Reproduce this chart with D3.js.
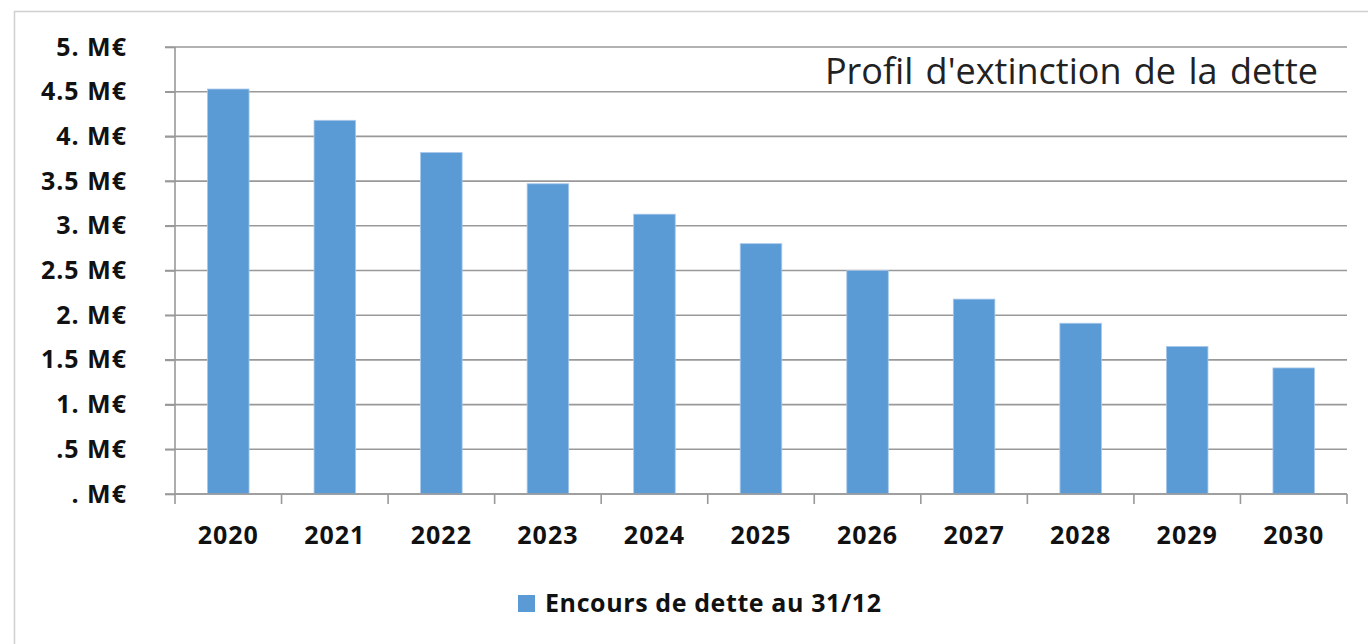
<!DOCTYPE html>
<html>
<head>
<meta charset="utf-8">
<script src="https://cdn.jsdelivr.net/npm/d3@7"></script>
<style>
  body { margin: 0; background: #fff; }
  text { font-family: "Open Sans", sans-serif; }
</style>
</head>
<body>
<script>
// data
let years = ["2020", "2021", "2022", "2023", "2024", "2025", "2026", "2027", "2028", "2029", "2030"];
let encours = [4.53, 4.18, 3.82, 3.47, 3.13, 2.80, 2.50, 2.18, 1.91, 1.65, 1.41];
let yTicks = [0, 0.5, 1, 1.5, 2, 2.5, 3, 3.5, 4, 4.5, 5];
let yTickLabels = [". M€", ".5 M€", "1. M€", "1.5 M€", "2. M€", "2.5 M€", "3. M€", "3.5 M€", "4. M€", "4.5 M€", "5. M€"];
let title = "Profil d'extinction de la dette";
let seriesName = "Encours de dette au 31/12";

let width = 1368;
let height = 644;
let plotLeft = 175, plotRight = 1347, plotTop = 47, plotBottom = 494;
let barColor = "#5b9bd5";

let svg = d3.select("body").append("svg")
  .attr("width", width)
  .attr("height", height);

// outer frame of the chart
svg.append("rect")
  .attr("x", 14.5).attr("y", 11.5)
  .attr("width", width).attr("height", height)
  .attr("fill", "none")
  .attr("stroke", "#d0d0d0")
  .attr("stroke-width", 1.5);

let x = d3.scaleBand().domain(years).range([plotLeft, plotRight]).paddingInner(0.61).paddingOuter(0.305);
let y = d3.scaleLinear().domain([0, 5]).range([plotBottom, plotTop]);
let step = x.step();

// gridlines
svg.append("g")
  .selectAll("line")
  .data(yTicks)
  .enter().append("line")
    .attr("x1", plotLeft - 10).attr("x2", plotRight)
    .attr("y1", d => y(d)).attr("y2", d => y(d))
    .attr("stroke", "#999")
    .attr("stroke-width", 1.6);

// title sits between the two top gridlines
svg.append("text")
  .attr("x", 1318).attr("y", 84)
  .attr("text-anchor", "end")
  .attr("font-size", 36)
  .attr("word-spacing", 3)
  .attr("fill", "#222")
  .text(title);

// bars
svg.append("g")
  .selectAll("rect")
  .data(encours)
  .enter().append("rect")
    .attr("x", (d, i) => x(years[i]))
    .attr("y", d => y(d))
    .attr("width", x.bandwidth())
    .attr("height", d => y(0) - y(d))
    .attr("fill", barColor)
    .attr("stroke", "#a9c8ea")
    .attr("stroke-width", 0.8);

// y axis
let yAxis = d3.axisLeft(y)
  .tickValues(yTicks)
  .tickFormat((d, i) => yTickLabels[i])
  .tickSize(10)
  .tickPadding(38);

let gy = svg.append("g")
  .attr("transform", "translate(" + plotLeft + ",0)")
  .call(yAxis);
gy.select(".domain").attr("stroke", "#999").attr("stroke-width", 1.6).attr("d", "M0," + plotTop + "V" + plotBottom);
gy.selectAll(".tick line").attr("stroke", "#999").attr("stroke-width", 1.6);
gy.selectAll(".tick text")
  .attr("font-family", "Open Sans, sans-serif")
  .attr("font-size", 25)
  .attr("font-weight", "bold")
  .attr("letter-spacing", 1)
  .attr("fill", "#111");

// x axis
let xAxis = d3.axisBottom(x).tickSize(0).tickPadding(32);
let gx = svg.append("g")
  .attr("transform", "translate(0," + plotBottom + ")")
  .call(xAxis);
gx.select(".domain").attr("stroke", "#999").attr("stroke-width", 1.6).attr("d", "M" + plotLeft + ",0H" + plotRight);
gx.selectAll(".tick text")
  .attr("font-family", "Open Sans, sans-serif")
  .attr("font-size", 25)
  .attr("font-weight", "bold")
  .attr("letter-spacing", 1)
  .attr("fill", "#111");

// category boundary ticks
gx.append("g")
  .selectAll("line")
  .data(d3.range(years.length + 1))
  .enter().append("line")
    .attr("x1", i => plotLeft + i * step).attr("x2", i => plotLeft + i * step)
    .attr("y1", 0).attr("y2", 10)
    .attr("stroke", "#999")
    .attr("stroke-width", 1.6);

// legend
let legend = svg.append("g").attr("transform", "translate(518,595)");
legend.append("rect")
  .attr("width", 17).attr("height", 17)
  .attr("fill", barColor);
legend.append("text")
  .attr("x", 27).attr("y", 17)
  .attr("font-size", 25)
  .attr("font-weight", "bold")
  .attr("letter-spacing", 0.6)
  .attr("fill", "#111")
  .text(seriesName);
</script>
</body>
</html>
